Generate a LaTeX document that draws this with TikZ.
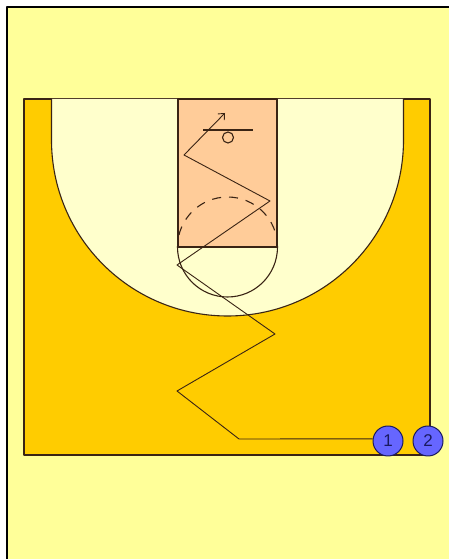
\documentclass[tikz,border=0pt]{standalone}
\usepackage{fontspec}
\setsansfont{Liberation Sans}
\usepackage{tikz}
\usetikzlibrary{arrows.meta}

\definecolor{paper}{HTML}{FFFF99}
\definecolor{court}{HTML}{FFCC00}
\definecolor{inside}{HTML}{FFFFCC}
\definecolor{lane}{HTML}{FFCC99}
\definecolor{ink}{HTML}{3A2414}
\definecolor{chip}{HTML}{6666FF}
\definecolor{chipink}{HTML}{1A1A60}

\begin{document}
\begin{tikzpicture}[x=1pt, y=1pt, line join=round,
    player/.style={circle, draw=chipink, fill=chip, line width=1pt, minimum size=30pt, inner sep=0pt,
      text=chipink, font=\sffamily\fontsize{17}{17}\selectfont},
    lines/.style={draw=ink, line width=1.1pt},
    move/.style={draw=ink, line width=0.9pt}]
    \useasboundingbox (0,0) rectangle (449,559);
    \fill[paper] (7,0) rectangle (449,552);
    \draw[black, line width=1.2pt] (7,0) -- (7,552) -- (449,552);
    % half court
    \filldraw[lines, fill=court] (24,104) rectangle (430,460);
    \filldraw[lines, fill=inside] (51.5,460) -- (51.5,419) arc (180:360:176) -- (403.5,460);
    \filldraw[lines, fill=lane] (178,312) rectangle (277,460);
    % free throw circle
    \draw[lines] (177.5,312) arc (180:360:50);
    \draw[lines, dash pattern=on 9pt off 8pt] (277.5,312) arc (0:180:50);
    % basket
    \draw[lines] (203,429) -- (253,429);
    \draw[lines] (228,421.5) circle [radius=5.5];
    % players
    \node[player] (p1) at (388,118) {1};
    \node[player] (p2) at (428,118) {2};
    % dribble path
    \coordinate (c1) at (239,120);
    \coordinate (c2) at (177,168);
    \coordinate (c3) at (275,225);
    \coordinate (c4) at (177,294);
    \coordinate (c5) at (270,358);
    \coordinate (c6) at (184,404);
    \coordinate (c7) at (225,446);
    \draw[move, -{Straight Barb[length=5pt, width=9pt]}] (p1.172) -- (c1) -- (c2) -- (c3) -- (c4) -- (c5) -- (c6) -- (c7);
  \end{tikzpicture}
\end{document}
